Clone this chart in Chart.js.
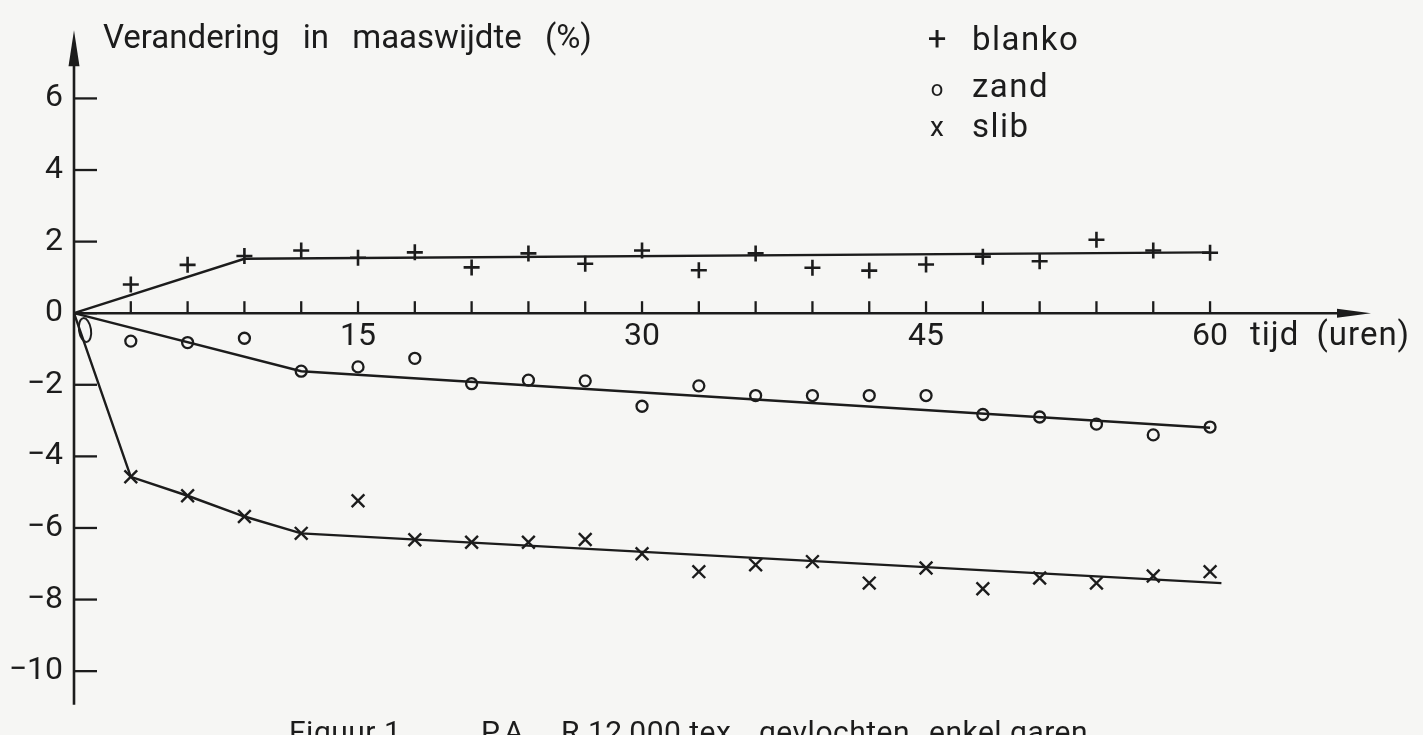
<!DOCTYPE html>
<html lang="nl">
<head>
<meta charset="utf-8">
<title>Verandering in maaswijdte – PA R 12 000 tex gevlochten enkel garen</title>
<script src="https://cdn.jsdelivr.net/npm/chart.js@4.4.1/dist/chart.umd.min.js"></script>
<style>
  html, body { margin: 0; padding: 0; width: 1423px; height: 735px; overflow: hidden; background: #f6f6f4; }
  #wrap { position: relative; width: 1423px; height: 735px; overflow: hidden; }
  canvas { position: absolute; left: 0; top: 0; }
  .lbl { position: absolute; font-family: Roboto, "Liberation Sans", sans-serif; font-weight: 400;
         line-height: 1; color: #1c1c1c; white-space: pre; }
</style>
</head>
<body>
<div id="wrap">
  <canvas id="chart" width="1423" height="735"></canvas>
  <div id="labels"></div>
</div>
<script>
// Measurement times (hours)
const hours = [3, 6, 9, 12, 15, 18, 21, 24, 27, 30, 33, 36, 39, 42, 45, 48, 51, 54, 57, 60];

// Change in mesh width (%) per treatment
const blanko = [0.8, 1.35, 1.6, 1.75, 1.55, 1.7, 1.28, 1.67, 1.38, 1.75, 1.2, 1.67, 1.27, 1.19, 1.36, 1.58, 1.45, 2.05, 1.75, 1.69];
const zand   = [-0.78, -0.82, -0.7, -1.62, -1.5, -1.26, -1.97, -1.87, -1.89, -2.6, -2.03, -2.3, -2.3, -2.3, -2.3, -2.83, -2.9, -3.1, -3.4, -3.18];
const slib   = [-4.57, -5.1, -5.68, -6.15, -5.24, -6.33, -6.4, -6.4, -6.32, -6.72, -7.22, -7.03, -6.94, -7.54, -7.12, -7.7, -7.4, -7.54, -7.34, -7.22];

// Elongated "o" mark drawn at the start of the zand series
const zandStartX = [0.58];
const zandStartY = [-0.47];

// Hand-drawn trend lines (break points)
const blankoLineX = [0, 9, 60];
const blankoLineY = [0, 1.52, 1.7];
const zandLineX   = [0, 12, 60];
const zandLineY   = [0, -1.62, -3.2];
const slibLineX   = [0, 3, 6, 9, 12, 60.6];
const slibLineY   = [0, -4.57, -5.1, -5.68, -6.15, -7.54];

// Axes
const xTickLabels = [15, 30, 45, 60];
const xMinorTicks = [3, 6, 9, 12, 15, 18, 21, 24, 27, 30, 33, 36, 39, 42, 45, 48, 51, 54, 57, 60];
const yTickValues = [6, 4, 2, 0, -2, -4, -6, -8, -10];

// Texts
const seriesNames = ['blanko', 'zand', 'slib'];
const seriesSymbols = ['+', 'o', 'x'];
const yTitle = 'Verandering in maaswijdte (%)';
const xTitle = 'tijd (uren)';
const captionParts = ['Figuur 1', 'P.A.', 'R 12\u2009000 tex', 'gevlochten', 'enkel garen'];

const ink = '#1c1c1c';
const FONT = 'Roboto, "Liberation Sans", sans-serif';

// ---- HTML text (titles, legend, caption) ----
const labelsEl = document.getElementById('labels');
// place a label by its baseline; Roboto baseline sits at ~0.8415em with line-height 1
function addLabel(text, left, baseline, size, opts = {}) {
  const d = document.createElement('div');
  d.className = 'lbl';
  d.textContent = text;
  d.style.fontSize = size + 'px';
  d.style.left = left + 'px';
  d.style.top = (baseline - 0.8415 * size) + 'px';
  if (opts.center) d.style.transform = 'translateX(-50%)';
  if (opts.wordSpacing) d.style.wordSpacing = opts.wordSpacing + 'px';
  if (opts.letterSpacing) d.style.letterSpacing = opts.letterSpacing + 'px';
  labelsEl.appendChild(d);
}
addLabel(yTitle, 103, 48, 33, { wordSpacing: 15 });
addLabel(xTitle, 1250, 345, 33, { wordSpacing: 8, letterSpacing: 1 });

const legendBaselines = [50, 97, 137];
const symbolSizes = [33, 22, 28];
seriesNames.forEach((name, i) => {
  addLabel(seriesSymbols[i], 937, legendBaselines[i], symbolSizes[i], { center: true });
  addLabel(name, 972, legendBaselines[i], 33, { letterSpacing: 1.5 });
});

const captionLefts = [289, 481, 561, 759, 929];
captionParts.forEach((t, i) => addLabel(t, captionLefts[i], 742, 30, { letterSpacing: 0.5 }));

// ---- chart ----
const pts = (xs, ys) => xs.map((v, i) => ({ x: v, y: ys[i] }));

function ellipseMark(w, h, lw) {
  const c = document.createElement('canvas');
  c.width = w; c.height = h;
  const g = c.getContext('2d');
  g.strokeStyle = ink;
  g.lineWidth = lw;
  g.beginPath();
  g.ellipse(w / 2, h / 2, w / 2 - lw, h / 2 - lw, -0.15, 0, Math.PI * 2);
  g.stroke();
  return c;
}

const axisArrows = {
  id: 'axisArrows',
  beforeDatasetsDraw(chart) {
    const { ctx, scales: { x, y } } = chart;
    const x0 = x.getPixelForValue(0);
    const y0 = y.getPixelForValue(0);
    ctx.save();
    ctx.strokeStyle = ink;
    ctx.fillStyle = ink;
    ctx.lineWidth = 2.6;

    // time axis with arrow
    const xEnd = x.right;
    ctx.beginPath();
    ctx.moveTo(x0, y0);
    ctx.lineTo(xEnd - 20, y0);
    ctx.stroke();
    ctx.beginPath();
    ctx.moveTo(xEnd, y0);
    ctx.lineTo(xEnd - 34, y0 - 4.5);
    ctx.lineTo(xEnd - 34, y0 + 4.5);
    ctx.closePath();
    ctx.fill();

    // value axis with arrow
    ctx.beginPath();
    ctx.moveTo(x0, y.bottom);
    ctx.lineTo(x0, y.top + 20);
    ctx.stroke();
    ctx.beginPath();
    ctx.moveTo(x0, y.top);
    ctx.lineTo(x0 - 5.5, y.top + 36);
    ctx.lineTo(x0 + 5.5, y.top + 36);
    ctx.closePath();
    ctx.fill();

    // tick marks pointing into the plot
    ctx.lineWidth = 2.3;
    xMinorTicks.forEach(h => {
      const px = x.getPixelForValue(h);
      ctx.beginPath();
      ctx.moveTo(px, y0);
      ctx.lineTo(px, y0 - 12);
      ctx.stroke();
    });
    yTickValues.forEach(v => {
      const py = y.getPixelForValue(v);
      ctx.beginPath();
      ctx.moveTo(x0, py);
      ctx.lineTo(x0 + 23, py);
      ctx.stroke();
    });
    ctx.restore();
  }
};

const markerBase = { showLine: false, borderColor: ink, backgroundColor: 'rgba(0,0,0,0)', clip: false };
const lineBase = { showLine: true, pointRadius: 0, borderColor: ink, borderWidth: 2.4, tension: 0, clip: false, fill: false };
const tickFont = { family: FONT, size: 32, weight: '400' };

new Chart(document.getElementById('chart'), {
  type: 'scatter',
  data: {
    datasets: [
      { ...lineBase, label: seriesNames[0], data: pts(blankoLineX, blankoLineY) },
      { ...lineBase, label: seriesNames[1], data: pts(zandLineX, zandLineY) },
      { ...lineBase, label: seriesNames[2], data: pts(slibLineX, slibLineY) },
      { ...markerBase, label: seriesNames[0], data: pts(hours, blanko), pointStyle: 'cross', pointRadius: 8, pointBorderWidth: 2.6 },
      { ...markerBase, label: seriesNames[1], data: pts(hours, zand), pointStyle: 'circle', pointRadius: 5.5, pointBorderWidth: 2.3 },
      { ...markerBase, label: seriesNames[2], data: pts(hours, slib), pointStyle: 'crossRot', pointRadius: 9, pointBorderWidth: 2.4 },
      { ...markerBase, label: seriesNames[1], data: pts(zandStartX, zandStartY), pointStyle: ellipseMark(16, 28, 2), pointRadius: 12 }
    ]
  },
  options: {
    responsive: false,
    animation: false,
    devicePixelRatio: 1,
    events: [],
    layout: { padding: { left: 0, top: 10, right: 52, bottom: 5 } },
    plugins: { legend: { display: false }, tooltip: { enabled: false } },
    scales: {
      x: {
        type: 'linear',
        min: 0,
        max: 68.5,
        position: { y: 0 },
        afterFit(s) { s.height = 0; },
        afterBuildTicks(s) { s.ticks = xTickLabels.map(v => ({ value: v })); },
        grid: { display: false, drawTicks: false },
        border: { display: false },
        ticks: { font: tickFont, color: ink, padding: 5, maxRotation: 0, autoSkip: false, callback: v => String(v) }
      },
      y: {
        type: 'linear',
        position: 'left',
        min: -10.94,
        max: 7.906,
        afterFit(s) { s.width = 74; },
        afterBuildTicks(s) { s.ticks = yTickValues.map(v => ({ value: v })); },
        grid: { display: false, drawTicks: false },
        border: { display: false },
        ticks: { font: tickFont, color: ink, padding: 11, autoSkip: false,
                 callback: v => (v < 0 ? '\u2212' + Math.abs(v) : String(v)) }
      }
    }
  },
  plugins: [axisArrows]
});
</script>
</body>
</html>
